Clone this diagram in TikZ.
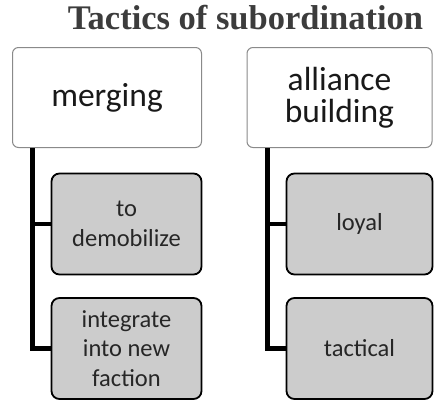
\documentclass[tikz,border=0pt]{standalone}
\usepackage{fontspec}
\setmainfont{Carlito}
\newfontfamily\titlefont{Liberation Serif}
\usepackage{tikz}
\definecolor{titlegray}{HTML}{3C3C3C}
\definecolor{boxgray}{HTML}{CCCCCC}
\definecolor{edgegray}{HTML}{8A8A8A}

\begin{document}
\begin{tikzpicture}[x=1pt,y=1pt,yscale=-1,xscale=1,
  topbox/.style={draw=edgegray, line width=1pt, fill=white, rounded corners=6pt, inner sep=0pt, align=center, text=black!90, font=\fontsize{33.5}{32}\selectfont},
  subbox/.style={draw=black, line width=1.8pt, fill=boxgray, rounded corners=8pt, inner sep=0pt, align=center, minimum width=150pt, minimum height=101pt, text=black!85, font=\fontsize{24.5}{29.5}\selectfont},
  branch/.style={line width=4.5pt}]
\useasboundingbox (0,0) rectangle (434,400);

% Text Node
\node (title) at (245.5,17.5) {\titlefont\bfseries\fontsize{34.5}{36}\selectfont\color{titlegray}Tactics of subordination};

% Shape: Rounded Rect
\node [topbox, minimum width=189pt, minimum height=100pt] (merging) at (107,97.5) {merging};
% Shape: Rounded Rect
\node [topbox, minimum width=185pt, minimum height=100pt] (alliance) at (339.5,97.5) {alliance\\building};

% Shape: Rounded Rect
\node [subbox] (demob) at (126.5,224) {to\\demobilize};
% Shape: Rounded Rect
\node [subbox] (integrate) at (126.5,348.5) {integrate\\into new\\faction};
% Shape: Rounded Rect
\node [subbox, minimum width=146pt] (loyal) at (359.5,224) {loyal};
% Shape: Rounded Rect
\node [subbox, minimum width=146pt] (tactical) at (359.5,348.5) {tactical};

% Straight Lines
\coordinate (mstem) at ([xshift=20.5pt]merging.south west);
\coordinate (astem) at ([xshift=21pt]alliance.south west);
\draw [branch] (mstem) |- (demob.west) (mstem) |- (integrate.west);
\draw [branch] (astem) |- (loyal.west) (astem) |- (tactical.west);
\end{tikzpicture}
\end{document}
